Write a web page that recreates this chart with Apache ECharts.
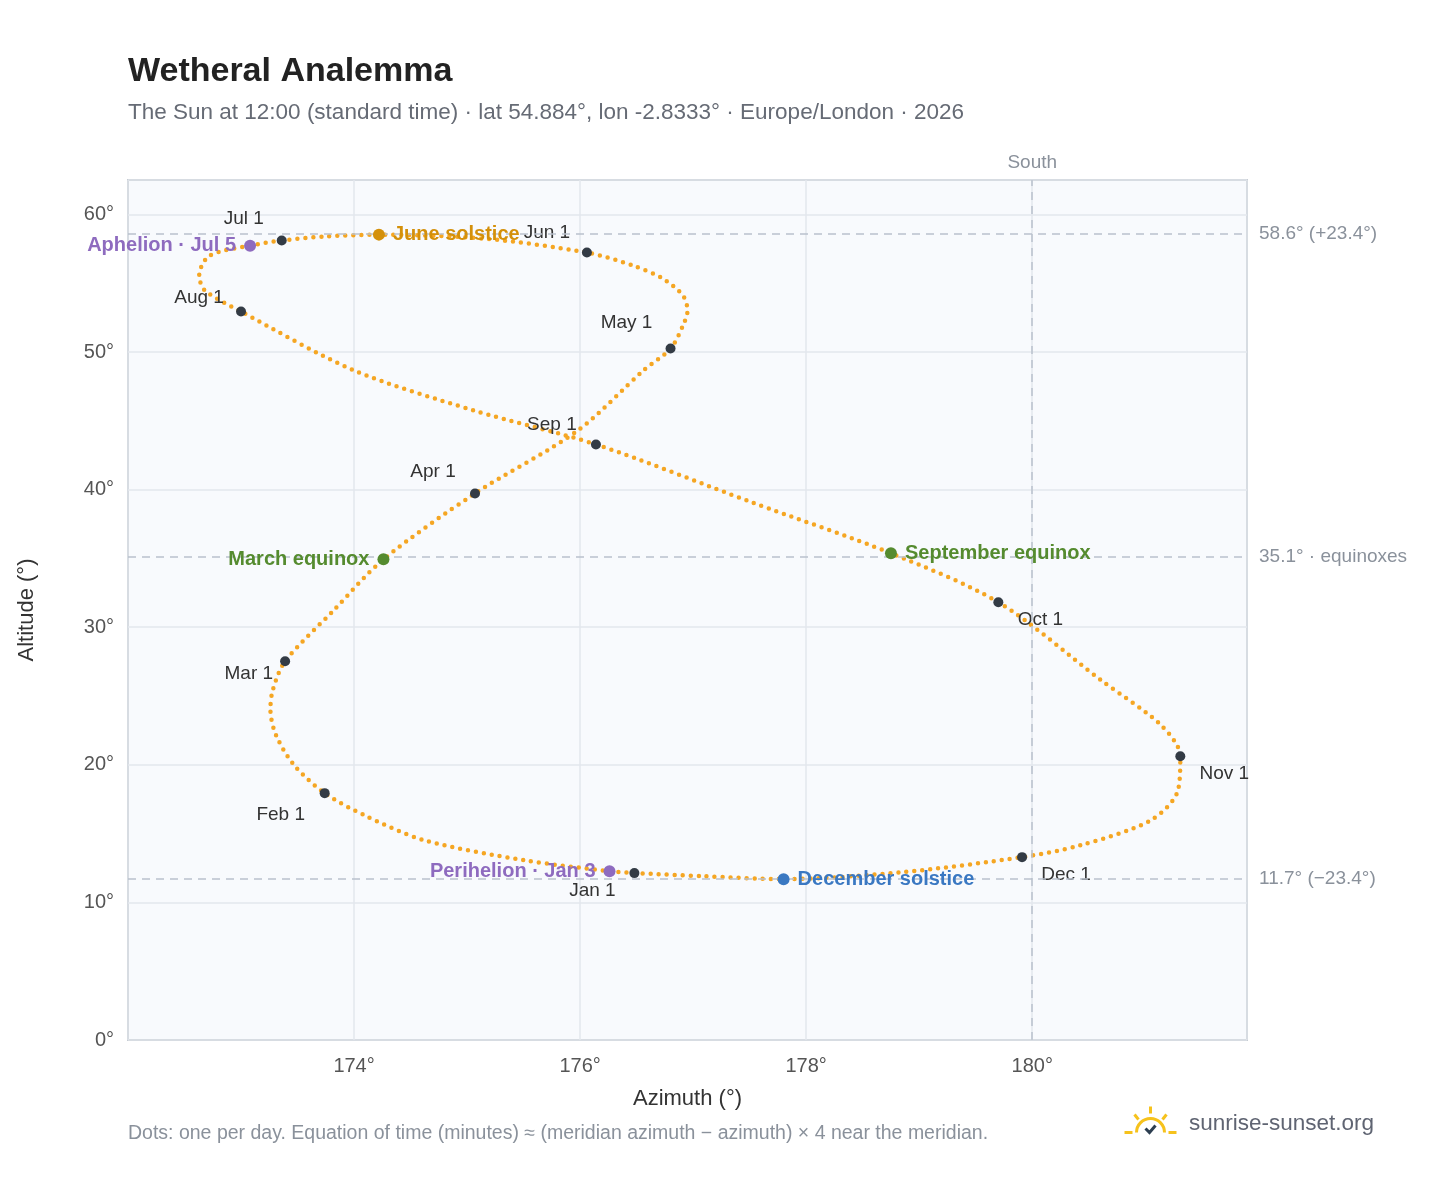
<!DOCTYPE html>
<html><head><meta charset="utf-8">
<script src="https://cdn.jsdelivr.net/npm/echarts@6/dist/echarts.min.js"></script>
<style>html,body{margin:0;background:#fff}#c{width:1448px;height:1188px}</style>
</head><body><div id="c"></div>
<script>
// path of the sun at noon (azimuth, altitude), in date order
var pathAz = [176.48, 176.26, 175.50, 174.62, 174.09, 173.74, 173.47, 173.31, 173.26, 173.28, 173.39, 173.82, 174.26, 175.07, 175.98, 176.56, 176.80, 176.91, 176.95, 176.91, 176.73, 176.47, 176.06, 175.15, 174.22, 173.74, 173.36, 173.08, 172.72, 172.63, 172.68, 173.00, 174.00, 175.06, 176.14, 177.52, 178.75, 179.70, 180.61, 181.14, 181.31, 181.29, 181.05, 180.43, 179.91, 178.85, 177.80, 177.08, 176.48];
var pathAlt = [12.13, 12.27, 13.07, 14.52, 16.34, 17.94, 19.97, 22.15, 24.00, 25.40, 27.52, 31.23, 34.93, 39.72, 44.30, 48.66, 50.25, 51.92, 53.00, 54.10, 55.34, 56.28, 57.23, 58.24, 58.53, 58.39, 58.10, 57.73, 56.99, 55.56, 54.47, 52.94, 48.66, 45.75, 43.28, 39.07, 35.37, 31.81, 26.14, 22.88, 20.62, 18.16, 15.98, 14.16, 13.29, 12.20, 11.69, 11.91, 12.13];

var months = ['Jan 1', 'Feb 1', 'Mar 1', 'Apr 1', 'May 1', 'Jun 1', 'Jul 1', 'Aug 1', 'Sep 1', 'Oct 1', 'Nov 1', 'Dec 1'];
var monthAz = [176.48, 173.74, 173.39, 175.07, 176.80, 176.06, 173.36, 173.00, 176.14, 179.70, 181.31, 179.91];
var monthAlt = [12.13, 17.94, 27.52, 39.72, 50.25, 57.23, 58.10, 52.94, 43.28, 31.81, 20.62, 13.29];

var events = ['March equinox', 'June solstice', 'September equinox', 'December solstice', 'Perihelion · Jan 3', 'Aphelion · Jul 5'];
var eventAz = [174.26, 174.22, 178.75, 177.80, 176.26, 173.08];
var eventAlt = [34.93, 58.53, 35.37, 11.69, 12.27, 57.73];
var eventColor = ['#558b2f', '#d4900a', '#558b2f', '#3a78c2', '#8e6bbf', '#8e6bbf'];

var refAlt = [58.6, 35.1, 11.7];
var refText = ['58.6° (+23.4°)', '35.1° · equinoxes', '11.7° (−23.4°)'];

var monthLabel = {
    'Jan 1': ['bottom', [-42, -2]], 'Feb 1': ['bottom', [-44, 2]], 'Mar 1': ['left', [-2, 12]],
    'Apr 1': ['top', [-42, -2]], 'May 1': ['top', [-44, -6]], 'Jun 1': ['top', [-40, 0]],
    'Jul 1': ['top', [-38, -2]], 'Aug 1': ['top', [-42, 6]], 'Sep 1': ['top', [-44, 0]],
    'Oct 1': ['bottom', [42, -2]], 'Nov 1': ['bottom', [44, -2]], 'Dec 1': ['bottom', [44, -2]]
};
var eventLabel = ['left', 'right', 'right', 'right', 'left', 'left'];

var chart = echarts.init(document.getElementById('c'));
var font = 'Liberation Sans, Arial, sans-serif';

var monthData = months.map(function (m, i) {
    return {
        value: [monthAz[i], monthAlt[i]], name: m,
        label: {show: true, formatter: m, position: monthLabel[m][0], offset: monthLabel[m][1], color: '#333', fontSize: 19, fontFamily: font}
    };
});
var eventData = events.map(function (e, i) {
    return {
        value: [eventAz[i], eventAlt[i]], name: e,
        itemStyle: {color: eventColor[i], opacity: 1},
        label: {show: true, formatter: e, position: eventLabel[i], distance: 8, color: eventColor[i], fontSize: 20, fontWeight: 'bold', fontFamily: font}
    };
});

var markLines = refAlt.map(function (a, i) {
    return {yAxis: a, label: {formatter: refText[i]}};
});
markLines.push({xAxis: 180, label: {formatter: 'South', position: 'end', distance: 8}});

chart.setOption({
    animation: false,
    textStyle: {fontFamily: font},
    title: {
        text: 'Wetheral Analemma',
        subtext: 'The Sun at 12:00 (standard time) · lat 54.884°, lon -2.8333° · Europe/London · 2026',
        left: 123, top: 50,
        textStyle: {fontSize: 34, fontWeight: 'bold', color: '#222'},
        subtextStyle: {fontSize: 22.5, color: '#666b75'},
        itemGap: 12
    },
    grid: {left: 128, right: 201, top: 180, bottom: 148, show: true, backgroundColor: '#f8fafd', borderColor: '#9aa5b1', borderWidth: 1.5},
    xAxis: {
        type: 'value', min: 172, max: 181.9, interval: 2,
        name: 'Azimuth (°)', nameLocation: 'middle', nameGap: 48,
        nameTextStyle: {fontSize: 22, color: '#333'},
        axisLine: {show: false}, axisTick: {show: false},
        axisLabel: {fontSize: 20, color: '#555', margin: 16, showMinLabel: false, showMaxLabel: false, formatter: '{value}°'},
        splitLine: {lineStyle: {color: '#e3e7ec', width: 1.5}}
    },
    yAxis: {
        type: 'value', min: 0, max: 62.5, interval: 10,
        name: 'Altitude (°)', nameLocation: 'middle', nameGap: 90,
        nameTextStyle: {fontSize: 22, color: '#333'},
        axisLine: {show: false}, axisTick: {show: false},
        axisLabel: {fontSize: 20, color: '#555', margin: 14, showMaxLabel: false, formatter: '{value}°'},
        splitLine: {lineStyle: {color: '#e3e7ec', width: 1.5}}
    },
    series: [{
        type: 'line', data: pathAz.map(function (a, i) { return [a, pathAlt[i]]; }),
        smooth: 0.3, symbol: 'none',
        lineStyle: {color: '#f5a623', width: 4.5, type: [0, 8], cap: 'round'},
        markLine: {
            silent: true, symbol: 'none',
            lineStyle: {color: '#b9c1cd', type: [8, 6], width: 1.5},
            label: {position: 'end', color: '#8a919b', fontSize: 19, distance: 12},
            data: markLines
        },
        z: 2
    }, {
        type: 'scatter', data: monthData, symbolSize: 10,
        itemStyle: {color: '#333b45', opacity: 1}, z: 4
    }, {
        type: 'scatter', data: eventData, symbolSize: 12, z: 5
    }],
    graphic: [{
        type: 'text', left: 128, top: 1124,
        style: {text: 'Dots: one per day. Equation of time (minutes) ≈ (meridian azimuth − azimuth) × 4 near the meridian.', fontSize: 19.5, fill: '#8a919b', fontFamily: font}
    }, {
        type: 'text', left: 1189, top: 1112,
        style: {text: 'sunrise-sunset.org', fontSize: 22.5, fill: '#5f6472', fontFamily: font}
    }, {
        type: 'group', left: 1122, top: 1104,
        children: [
            {type: 'arc', shape: {cx: 26, cy: 26, r: 14, startAngle: Math.PI, endAngle: 2 * Math.PI}, style: {stroke: '#f6c21c', lineWidth: 3, fill: null}},
            {type: 'line', shape: {x1: 0, y1: 26, x2: 8, y2: 26}, style: {stroke: '#f6c21c', lineWidth: 3}},
            {type: 'line', shape: {x1: 44, y1: 26, x2: 52, y2: 26}, style: {stroke: '#f6c21c', lineWidth: 3}},
            {type: 'line', shape: {x1: 26, y1: 0, x2: 26, y2: 7}, style: {stroke: '#f6c21c', lineWidth: 3}},
            {type: 'line', shape: {x1: 10, y1: 8, x2: 14, y2: 13}, style: {stroke: '#f6c21c', lineWidth: 3}},
            {type: 'line', shape: {x1: 42, y1: 8, x2: 38, y2: 13}, style: {stroke: '#f6c21c', lineWidth: 3}},
            {type: 'polyline', shape: {points: [[21, 22], [25, 26], [31, 19]]}, style: {stroke: '#2c3e50', lineWidth: 3, fill: null}}
        ]
    }]
});
</script>
</body></html>
